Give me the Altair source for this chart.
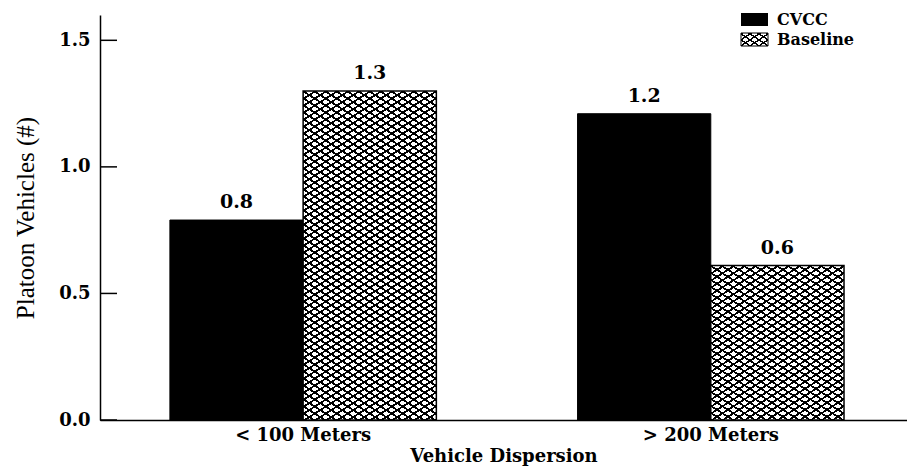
import altair as alt
import pandas as pd

# ---------------- data ----------------
categories = ["< 100 Meters", "> 200 Meters"]
series = ["CVCC", "Baseline"]
cvcc_values = [0.79, 1.21]
baseline_values = [1.30, 0.61]
y_ticks = [0.0, 0.5, 1.0, 1.5]
y_max = 1.6

# ---------------- layout / style ----------------
PLOT_W = 807
PLOT_H = 405
PAD_INNER = 0.3464
PAD_OUTER = 0.163
ALIGN = 0.526
TICK_FONT = "DejaVu Serif"

rows = []
for i, c in enumerate(categories):
    rows.append({"dispersion": c, "series": series[0], "value": cvcc_values[i]})
    rows.append({"dispersion": c, "series": series[1], "value": baseline_values[i]})
df = pd.DataFrame(rows)

step = PLOT_W / (len(categories) - PAD_INNER + 2 * PAD_OUTER)
bar_w = step * (1 - PAD_INNER) / len(series)


def hatch_gradient(W, H, px, py, frac, direction, line="#000000", gap="#ffffff"):
    """Diagonal stripes as a hard-stop linear gradient (bbox units).
    Stripes follow x/px + y/py = k (direction 1) or (W-x)/px + y/py = k."""
    n = W / px + H / py
    stops = []
    k = 0
    while k < n:
        s = k / n
        e = min((k + frac) / n, 1.0)
        stops.append({"offset": s, "color": line})
        stops.append({"offset": e, "color": line})
        if e < 1.0:
            nx = min((k + 1) / n, 1.0)
            stops.append({"offset": e, "color": gap})
            stops.append({"offset": nx, "color": gap})
        k += 1
    a = (H / py) / (W / px)
    sc = (1 + a) / (1 + a * a)
    if direction == 1:
        x1, y1, x2, y2 = 0, 0, sc, sc * a
    else:
        x1, y1, x2, y2 = 1, 0, 1 - sc, sc * a
    return {"gradient": "linear", "x1": x1, "y1": y1, "x2": x2, "y2": y2,
            "stops": stops}


x_enc = alt.X(
    "dispersion:N",
    sort=categories,
    scale=alt.Scale(domain=categories, paddingInner=PAD_INNER,
                    paddingOuter=PAD_OUTER, align=ALIGN),
    axis=alt.Axis(title="Vehicle Dispersion", labelAngle=0, ticks=False,
                  labelPadding=6, titlePadding=3),
)
xoff_enc = alt.XOffset("series:N", sort=series,
                       scale=alt.Scale(domain=series, paddingInner=0, paddingOuter=0))
y_axis = alt.Axis(title="Platoon Vehicles (#)", values=y_ticks, format=".1f",
                  ticks=False, grid=False, labelPadding=10, titlePadding=20,
                  titleFont="Liberation Serif", titleFontSize=25,
                  titleFontWeight="normal")
y_scale = alt.Scale(domain=[0, y_max], nice=False, zero=True)
y_enc = alt.Y("value:Q", scale=y_scale, axis=y_axis)

base = alt.Chart(df)

black_bars = base.transform_filter(alt.datum.series == series[0]).mark_bar(
    fill="black", stroke="black", strokeWidth=1
).encode(x=x_enc, xOffset=xoff_enc, y=y_enc)

layers = [black_bars]
for i, c in enumerate(categories):
    H = baseline_values[i] / y_max * PLOT_H
    sub = base.transform_filter(
        (alt.datum.series == series[1]) & (alt.datum.dispersion == c)
    )
    layers.append(
        sub.mark_bar(fill=hatch_gradient(bar_w, H, 11, 7, 0.3, 1), strokeWidth=0)
        .encode(x=x_enc, xOffset=xoff_enc, y=y_enc)
    )
    layers.append(
        sub.mark_bar(fill=hatch_gradient(bar_w, H, 11, 7, 0.3, 2, gap="rgba(0,0,0,0)"),
                     stroke="black", strokeWidth=1.5)
        .encode(x=x_enc, xOffset=xoff_enc, y=y_enc)
    )

labels = base.mark_text(
    baseline="bottom", dy=-8, font=TICK_FONT, fontWeight="bold", fontSize=19,
    color="black"
).encode(x=x_enc, xOffset=xoff_enc, y=y_enc,
         text=alt.Text("value:Q", format=".1f"))
layers.append(labels)

# inward y ticks
tick_df = pd.DataFrame({"value": y_ticks})
ticks = alt.Chart(tick_df).mark_rule(color="black", strokeWidth=1.5).encode(
    y=y_enc, x=alt.value(0), x2=alt.value(17)
)
layers.append(ticks)

# legend (top right)
one = pd.DataFrame({"k": [0]})
LX, LX2 = 641, 668
legend_black = alt.Chart(one).mark_rect(fill="black").encode(
    x=alt.value(LX), x2=alt.value(LX2), y=alt.value(-2), y2=alt.value(11))
sw_w, sw_h = LX2 - LX, 13
legend_h1 = alt.Chart(one).mark_rect(
    fill=hatch_gradient(sw_w, sw_h, 9, 6, 0.3, 1), strokeWidth=0).encode(
    x=alt.value(LX), x2=alt.value(LX2), y=alt.value(18), y2=alt.value(31))
legend_h2 = alt.Chart(one).mark_rect(
    fill=hatch_gradient(sw_w, sw_h, 9, 6, 0.3, 2, gap="rgba(0,0,0,0)"),
    stroke="black", strokeWidth=1).encode(
    x=alt.value(LX), x2=alt.value(LX2), y=alt.value(18), y2=alt.value(31))
legend_t1 = alt.Chart(one).mark_text(
    align="left", baseline="middle", font=TICK_FONT, fontWeight="bold",
    fontSize=16, color="black", text=series[0]).encode(
    x=alt.value(677), y=alt.value(4.5))
legend_t2 = alt.Chart(one).mark_text(
    align="left", baseline="middle", font=TICK_FONT, fontWeight="bold",
    fontSize=16, color="black", text=series[1]).encode(
    x=alt.value(677), y=alt.value(24.5))
layers += [legend_black, legend_h1, legend_h2, legend_t1, legend_t2]

chart = alt.layer(*layers).properties(
    width=PLOT_W, height=PLOT_H,
    padding={"left": 5, "top": 3, "right": 0, "bottom": 3},
    background="white",
).configure_view(stroke=None).configure_axis(
    domainColor="black", domainWidth=1.5,
    labelFont=TICK_FONT, labelFontWeight="bold", labelFontSize=18,
    labelColor="black",
    titleFont=TICK_FONT, titleFontWeight="bold", titleFontSize=18,
    titleColor="black",
)

chart.save("out.html", embed_options={"renderer": "svg", "actions": False})
